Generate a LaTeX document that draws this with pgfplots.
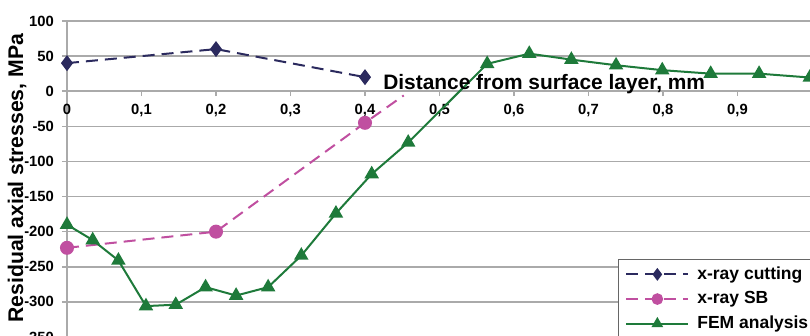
\documentclass[border=0pt]{standalone}
\usepackage{pgfplots}
\pgfplotsset{compat=1.18}
\usepackage{fontspec}
\setmainfont{Liberation Sans}
\definecolor{navy}{RGB}{43,42,94}
\definecolor{mag}{RGB}{192,79,160}
\definecolor{fem}{RGB}{30,122,58}
\definecolor{gridc}{RGB}{170,170,170}
\begin{document}
\begin{tikzpicture}
\begin{axis}[
  scale only axis,
  width=372.5pt, height=158pt,
  xmin=0, xmax=1, ymin=-350, ymax=100,
  axis x line=middle, axis y line=left,
  axis line style={-, draw=gridc, line width=0.8pt},
  hide obscured x ticks=false, hide obscured y ticks=false,
  xtick={0,0.1,0.2,0.3,0.4,0.5,0.6,0.7,0.8,0.9},
  ytick={-350,-300,-250,-200,-150,-100,-50,0,50,100},
  ymajorgrids, grid style={draw=gridc, line width=0.8pt},
  tick style={draw=gridc, line width=0.8pt},
  tick align=outside, major tick length=2.5pt,
  xticklabel style={/pgf/number format/use comma, /pgf/number format/fixed, /pgf/number format/precision=1, /pgf/number format/assume math mode=true, yshift=-0.5pt},
  yticklabel style={/pgf/number format/assume math mode=true, xshift=-0.5pt},
  ticklabel style={font=\fontsize{7.4}{8}\selectfont\bfseries},
  ylabel={Residual axial stresses, MPa},
  ylabel style={at={(axis cs:-0.067,-124)}, anchor=center, font=\fontsize{10.6}{12}\selectfont\bfseries},
  legend style={at={(axis cs:0.739,-238.6)}, anchor=north west, draw=gray!80!black, line width=0.8pt,
    font=\fontsize{8.75}{10}\selectfont\bfseries, inner xsep=3.5pt, inner ysep=1.5pt, row sep=0.6pt,
    /tikz/every odd column/.append style={column sep=2pt}},
  legend cell align=left,
  legend image code/.code={
    \draw[#1, mark=none] (0pt,0pt) -- (31pt,0pt);
    \draw[#1, solid, mark size=2.4pt] plot coordinates {(15.5pt,0pt)};
  },
]
\addplot[navy, line width=1pt, dash pattern=on 6pt off 3.5pt, mark=diamond*, mark size=3.2pt, mark options={solid, fill=navy}]
  coordinates {(0,40) (0.2,60) (0.4,20)};
\addlegendentry{x-ray cutting}
\addplot[mag, line width=1pt, dash pattern=on 6pt off 3.5pt, mark=*, mark size=3pt, mark indices={1,2,3}, mark options={solid, fill=mag}]
  coordinates {(0,-223) (0.2,-200) (0.4,-45) (0.452,-6)};
\addlegendentry{x-ray SB}
\addplot[fem, line width=1pt, mark=triangle*, mark size=3.2pt, mark options={solid, fill=fem}]
  coordinates {(0,-190) (0.0345,-212) (0.069,-241) (0.106,-306) (0.146,-304) (0.186,-279) (0.227,-291) (0.270,-279) (0.3145,-234) (0.361,-174) (0.409,-118) (0.458,-73) (0.564,39) (0.6205,53.5) (0.677,45) (0.737,37) (0.799,30) (0.864,25) (0.929,25) (0.997,19.5)};
\addlegendentry{FEM analysis}
\node[anchor=base west, font=\fontsize{10.45}{12}\selectfont\bfseries, inner sep=0pt] at (axis cs:0.424,3) {Distance from surface layer, mm};
\end{axis}
\pgfresetboundingbox
\useasboundingbox (-33.5pt,0.5pt) rectangle (371.5pt,168.5pt);
\end{tikzpicture}
\end{document}
